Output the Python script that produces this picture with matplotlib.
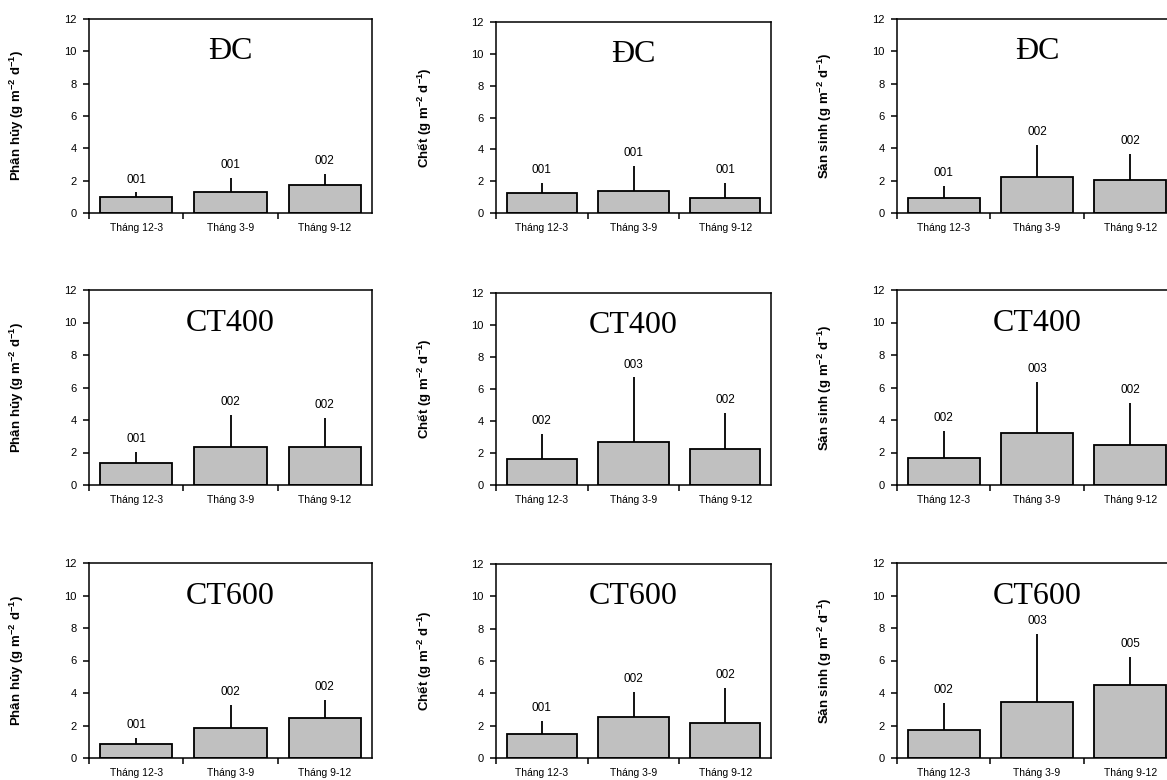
import matplotlib.pyplot as plt
from matplotlib.ticker import FixedLocator

plt.rcParams['font.family'] = ['Liberation Sans', 'DejaVu Sans']
plt.rcParams['mathtext.fontset'] = 'custom'
plt.rcParams['mathtext.rm'] = 'Liberation Sans'
plt.rcParams['mathtext.bf'] = 'Liberation Sans:bold'

categories = ['Tháng 12-3', 'Tháng 3-9', 'Tháng 9-12']
treatments = ['ĐC', 'CT400', 'CT600']
variables = ['Phân hủy', 'Chết', 'Sản sinh']

# rows = treatments (ĐC, CT400, CT600), columns = months
phan_huy_mean = [[1.00, 1.27, 1.73], [1.33, 2.36, 2.36], [0.88, 1.84, 2.45]]
phan_huy_sd = [[0.27, 0.89, 0.69], [0.68, 1.95, 1.74], [0.35, 1.43, 1.09]]
phan_huy_lbl = [['001', '001', '002'], ['001', '002', '002'], ['001', '002', '002']]

chet_mean = [[1.23, 1.36, 0.96], [1.61, 2.71, 2.25], [1.48, 2.51, 2.14]]
chet_sd = [[0.67, 1.60, 0.94], [1.56, 4.01, 2.28], [0.82, 1.56, 2.22]]
chet_lbl = [['001', '001', '001'], ['002', '003', '002'], ['001', '002', '002']]

san_sinh_mean = [[0.95, 2.24, 2.06], [1.64, 3.20, 2.46], [1.71, 3.46, 4.52]]
san_sinh_sd = [[0.70, 1.96, 1.62], [1.68, 3.12, 2.57], [1.69, 4.19, 1.71]]
san_sinh_lbl = [['001', '002', '002'], ['002', '003', '002'], ['002', '003', '005']]

means = [phan_huy_mean, chet_mean, san_sinh_mean]
sds = [phan_huy_sd, chet_sd, san_sinh_sd]
lbls = [phan_huy_lbl, chet_lbl, san_sinh_lbl]

W, H = 1167, 780
fig = plt.figure(figsize=(W / 100, H / 100), dpi=100)

# axes boxes in pixels: (left, width) per column, (top, bottom) per row
col_x = [(89, 283), (496, 275), (897, 280)]
row_y = [[(19, 213), (22, 213), (19, 213)],
         [(290, 485), (293, 485), (290, 485)],
         [(563, 758), (564, 758), (563, 758)]]

x = range(len(categories))
for r, trt in enumerate(treatments):
    for c, var in enumerate(variables):
        left, width = col_x[c]
        top, bottom = row_y[r][c]
        ax = fig.add_axes([left / W, (H - bottom) / H, width / W, (bottom - top) / H])
        m = means[c][r]
        s = sds[c][r]
        ax.errorbar(list(x), m, yerr=[[0] * 3, s], fmt='none', ecolor='black',
                    elinewidth=1.3, capsize=0, zorder=1)
        ax.bar(list(x), m, width=0.77, color='#c0c0c0', edgecolor='black',
               linewidth=1.3, zorder=2)
        for i in x:
            ax.text(i, m[i] + s[i] + 0.8, lbls[c][r][i], ha='center', va='center',
                    fontsize=8.5)
        ax.text(0.5, 0.83, trt, transform=ax.transAxes, ha='center', va='center',
                fontsize=23, family='Liberation Serif')
        ax.set_xlim(-0.5, 2.5)
        ax.set_ylim(0, 12)
        ax.set_yticks(range(0, 13, 2))
        ax.set_xticks(list(x))
        ax.set_xticklabels(categories, fontsize=7.5)
        ax.xaxis.set_minor_locator(FixedLocator([-0.5, 0.5, 1.5]))
        ax.tick_params(axis='x', which='major', length=0, pad=7)
        ax.tick_params(axis='x', which='minor', length=4, width=1.1, direction='out')
        ax.tick_params(axis='y', length=4, width=1.1, direction='out', labelsize=8, pad=5)
        for sp in ax.spines.values():
            sp.set_linewidth(1.1)
        ax.set_ylabel(var + r' (g m$^{\mathbf{-2}}$ d$^{\mathbf{-1}}$)',
                      fontsize=9.5, fontweight='bold', labelpad=27)

fig.savefig('out.png', dpi=100)
